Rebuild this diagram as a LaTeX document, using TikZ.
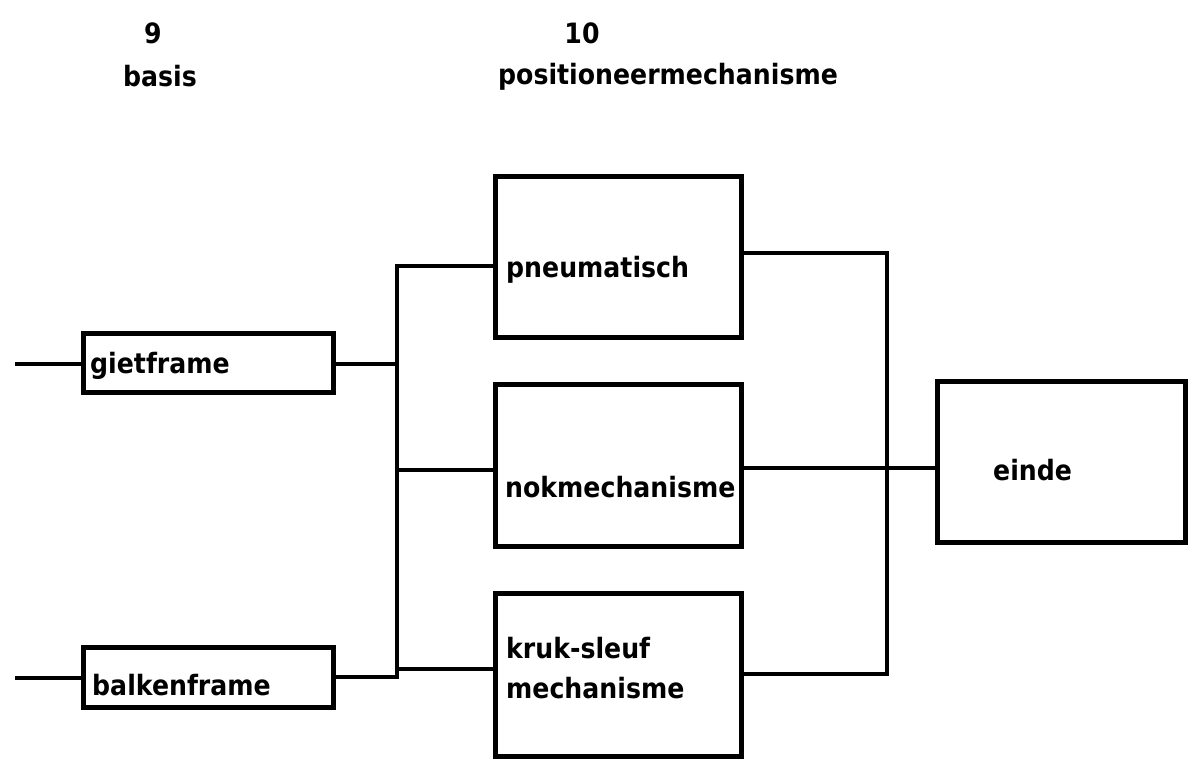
\documentclass[tikz,border=0pt]{standalone}
\usepackage{fontspec}
\setmainfont{DejaVu Sans}
\newfontfamily\plotfont{DejaVu Sans}[FakeStretch=0.9]
\begin{document}
\begin{tikzpicture}[x=1pt,y=-1pt,
  blk/.style={draw=black,line width=5pt,minimum width=#1,inner sep=0pt,outer sep=0pt},
  wire/.style={draw=black,line width=4.5pt},
  lbl/.style={anchor=west,inner sep=0pt,font=\plotfont\bfseries\fontsize{28}{32}\selectfont},
  head/.style={inner sep=0pt,font=\plotfont\bfseries\fontsize{28}{32}\selectfont}]
\useasboundingbox (0,0) rectangle (1196,765);
% headers
\node[head] (n9) at (153,33) {9};
\node[head] (basis) at (160,76) {basis};
\node[head] (n10) at (582,33) {10};
\node[head] (pos) at (668,77) {positioneermechanisme};
% boxes
\node[blk=250pt,minimum height=59pt] (giet) at (208,362.5) {};
\node[blk=250pt,minimum height=60pt] (balk) at (208,677) {};
\node[blk=246pt,minimum height=161pt] (pneu) at (618,256.5) {};
\node[blk=246pt,minimum height=162pt] (nok) at (618,465) {};
\node[blk=246pt,minimum height=163pt] (kruk) at (618,674.5) {};
\node[blk=248pt,minimum height=161pt] (einde) at (1061,461.5) {};
% texts
\node[lbl] (tgiet) at (90,366) {gietframe};
\node[lbl] (tbalk) at (92,685) {balkenframe};
\node[lbl] (tpneu) at (506,270) {pneumatisch};
\node[lbl] (tnok) at (505,487) {nokmechanisme};
\node[lbl] (tkruk1) at (506,648) {kruk-sleuf};
\node[lbl] (tkruk2) at (506,688) {mechanisme};
\node[lbl] (teinde) at (993,470) {einde};
% coordinates
\coordinate (in1) at (15,364);
\coordinate (in2) at (15,678);
\coordinate (bA) at (397,266);
\coordinate (bB) at (397,364);
\coordinate (bC) at (397,470);
\coordinate (bD) at (397,669);
\coordinate (bE) at (397,677);
\coordinate (rA) at (887,253);
\coordinate (rB) at (887,674);
% wires
\draw[wire] (in1) -- (giet.west |- in1);
\draw[wire] (in2) -- (balk.west |- in2);
\draw[wire] (giet.east |- bB) -- (bB);
\draw[wire,line join=miter] (balk.east |- bE) -- (bE) -- (bA) -- (pneu.west |- bA);
\draw[wire] (bC) -- (nok.west |- bC);
\draw[wire] (bD) -- (kruk.west |- bD);
\draw[wire,line join=miter] (pneu.east |- rA) -- (rA) -- (rB) -- (kruk.east |- rB);
\draw[wire] (nok.east |- 0,468) -- (einde.west |- 0,468);
\end{tikzpicture}
\end{document}
